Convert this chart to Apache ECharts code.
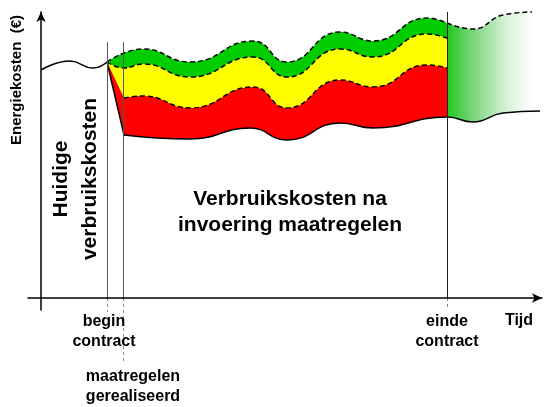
<!DOCTYPE html>
<html>
<head>
<meta charset="utf-8">
<script src="https://cdn.jsdelivr.net/npm/echarts@6/dist/echarts.min.js"></script>
<style>
  html, body { margin: 0; padding: 0; background: #fff; }
  #chart { width: 545px; height: 407px; }
</style>
</head>
<body>
<div id="chart"></div>
<script>
// tijd (x) en kosten (y), in willekeurige eenheden
const basisTijd = [0, 29, 52, 66];
const basisKosten = [228, 237, 230, 236];

const groenTijd = [66, 102, 149, 212, 246, 299, 332, 386, 406];
const groenKosten = [236, 249, 236, 257, 236, 266, 257, 280, 275];

const geelTijd = [66, 83, 102, 149, 212, 246, 299, 332, 386, 406];
const geelKosten = [236, 230, 234, 221, 241, 221, 249, 241, 264, 260];

const roodStartTijd = [66, 83];
const roodStartKosten = [236, 200];
const roodTijd = [83, 102, 149, 212, 246, 299, 332, 386, 406];
const roodKosten = [200, 202, 190, 211, 190, 218, 211, 233, 230];

const bodemStartTijd = [66, 83];
const bodemStartKosten = [236, 163];
const bodemTijd = [83, 149, 209, 246, 299, 332, 406, 432, 462, 499];
const bodemKosten = [163, 159, 170, 158, 175, 170, 181, 176, 185, 187];

const vervolgTijd = [406, 432, 462, 491];
const vervolgKosten = [275, 269, 283, 286];

// markeringen op de tijdas: begin contract, maatregelen gerealiseerd, einde contract
const markTijd = [66.5, 82.5, 406.5];
const markBoven = [256, 256, 286];
const markOnder = [-14, -64, -12];
const markKleur = ['#555', '#555', '#222'];

const zip = (xs, ys) => xs.map((x, i) => [x, ys[i]]);

const chart = echarts.init(document.getElementById('chart'));
const font = '"Liberation Sans", Arial, sans-serif';
const dash = { color: '#000', width: 1.5, type: [5, 3] };
const solid = { color: '#000', width: 1.5 };

function band(name, data, line, fill, smooth) {
  return {
    name: name,
    type: 'line',
    data: data,
    smooth: smooth,
    symbol: 'none',
    clip: false,
    lineStyle: line,
    areaStyle: fill ? { color: fill, opacity: 1 } : undefined,
    silent: true
  };
}

const series = [
  band('groen', zip(groenTijd, groenKosten), dash, '#00cc00', 0.5),
  band('geel', zip(geelTijd, geelKosten), dash, '#ffff00', 0.5),
  band('roodStart', zip(roodStartTijd, roodStartKosten), { width: 0, opacity: 0 }, '#ff0000', false),
  band('rood', zip(roodTijd, roodKosten), dash, '#ff0000', 0.5),
  band('vervolg', zip(vervolgTijd, vervolgKosten), dash, {
    type: 'linear', x: 0, y: 0, x2: 1, y2: 0,
    colorStops: [
      { offset: 0, color: '#22c622' },
      { offset: 0.35, color: '#86d986' },
      { offset: 0.7, color: '#d6f1d6' },
      { offset: 1, color: '#ffffff' }
    ]
  }, 0.5),
  band('bodemStart', zip(bodemStartTijd, bodemStartKosten), solid, '#ffffff', false),
  band('bodem', zip(bodemTijd, bodemKosten), solid, '#ffffff', 0.5),
  band('basis', zip(basisTijd, basisKosten), solid, null, 0.5)
];

markTijd.forEach((t, i) => {
  series.push(band('lijn' + i, [[t, markBoven[i]], [t, 0]], { color: markKleur[i], width: 1 }, null, false));
  series.push(band('stip' + i, [[t, 0], [t, markOnder[i]]], { color: '#888', width: 1, type: [3, 3] }, null, false));
});

const txt = { fill: '#000', textAlign: 'center', align: 'center', textVerticalAlign: 'middle', verticalAlign: 'middle' };
function label(x, y, text, size, lh, rot) {
  return {
    type: 'text', x: x, y: y, rotation: rot || 0, z: 100,
    style: Object.assign({ text: text, font: 'bold ' + size + 'px ' + font, lineHeight: lh }, txt)
  };
}

chart.setOption({
  animation: false,
  backgroundColor: '#fff',
  grid: { left: 28, right: 3, top: 12, bottom: 97 },
  xAxis: {
    type: 'value', min: -13, max: 501, z: 10,
    axisLine: { onZero: true, symbol: ['none', 'arrow'], symbolSize: [7, 10], lineStyle: { color: '#000', width: 1.5 } },
    axisTick: { show: false }, axisLabel: { show: false }, splitLine: { show: false }
  },
  yAxis: {
    type: 'value', min: -12, max: 286, z: 10,
    axisLine: { show: true, onZero: true, symbol: ['none', 'arrow'], symbolSize: [7, 10], lineStyle: { color: '#000', width: 1.5 } },
    axisTick: { show: false }, axisLabel: { show: false }, splitLine: { show: false }
  },
  series: series,
  graphic: [
    label(17, 80, 'Energiekosten  (€)', 15, 18, Math.PI / 2),
    label(76, 179, 'Huidige\nverbruikskosten', 21, 29, Math.PI / 2),
    label(290, 212, 'Verbruikskosten na\ninvoering maatregelen', 21, 26),
    label(104, 332, 'begin\ncontract', 16, 20),
    label(447, 332, 'einde\ncontract', 16, 20),
    label(133, 387, 'maatregelen\ngerealiseerd', 16, 20),
    label(519, 321, 'Tijd', 16, 20)
  ]
});
</script>
</body>
</html>
